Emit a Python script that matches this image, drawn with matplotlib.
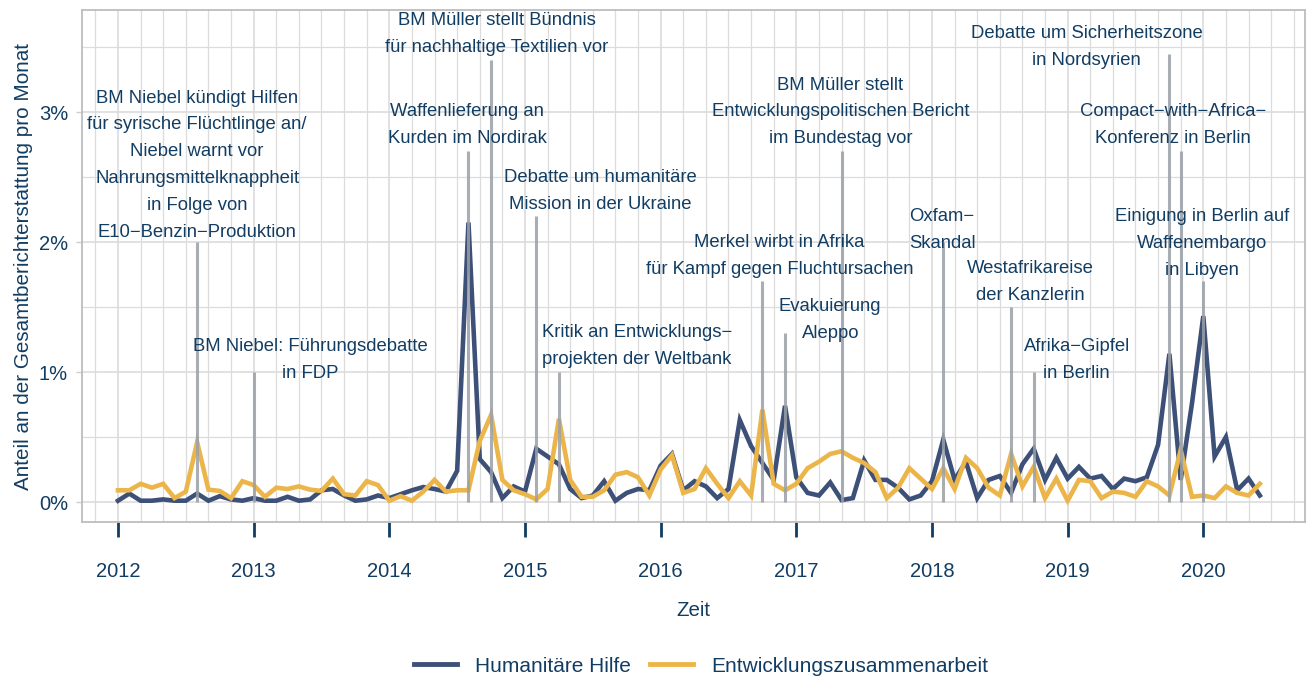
import matplotlib
matplotlib.use("Agg")
import matplotlib.pyplot as plt
import numpy as np
from matplotlib.lines import Line2D

plt.rcParams['font.family'] = ['Liberation Sans', 'DejaVu Sans']

# ---------------- data ----------------
start_year = 2012
humanitaer = [0.01, 0.065, 0.01, 0.01, 0.02, 0.01, 0.01, 0.065, 0.01, 0.045, 0.02, 0.01,
              0.03, 0.01, 0.01, 0.04, 0.01, 0.02, 0.09, 0.10, 0.05, 0.01, 0.02, 0.05,
              0.03, 0.06, 0.09, 0.115, 0.10, 0.08, 0.24, 2.15, 0.33, 0.23, 0.03, 0.12,
              0.08, 0.41, 0.35, 0.29, 0.10, 0.03, 0.05, 0.16, 0.01, 0.07, 0.10, 0.09,
              0.28, 0.37, 0.09, 0.16, 0.12, 0.03, 0.10, 0.63, 0.43, 0.30, 0.17, 0.74,
              0.19, 0.07, 0.05, 0.15, 0.015, 0.03, 0.32, 0.17, 0.17, 0.11, 0.02, 0.05,
              0.16, 0.48, 0.17, 0.31, 0.03, 0.17, 0.20, 0.07, 0.29, 0.41, 0.17, 0.34,
              0.18, 0.27, 0.18, 0.20, 0.10, 0.18, 0.16, 0.19, 0.44, 1.14, 0.17, 0.76,
              1.43, 0.35, 0.50, 0.09, 0.18, 0.05]
entwicklung = [0.09, 0.09, 0.14, 0.11, 0.14, 0.03, 0.08, 0.46, 0.095, 0.085, 0.03, 0.16,
               0.13, 0.04, 0.11, 0.10, 0.12, 0.095, 0.085, 0.18, 0.06, 0.05, 0.16, 0.13,
               0.01, 0.045, 0.01, 0.08, 0.17, 0.08, 0.09, 0.09, 0.47, 0.67, 0.17, 0.09,
               0.06, 0.02, 0.10, 0.64, 0.17, 0.04, 0.04, 0.09, 0.21, 0.23, 0.19, 0.05,
               0.25, 0.36, 0.07, 0.10, 0.26, 0.14, 0.03, 0.16, 0.05, 0.71, 0.14, 0.09,
               0.14, 0.26, 0.31, 0.37, 0.39, 0.34, 0.30, 0.23, 0.03, 0.11, 0.26, 0.18,
               0.10, 0.26, 0.10, 0.34, 0.26, 0.11, 0.05, 0.37, 0.12, 0.27, 0.03, 0.18,
               0.01, 0.17, 0.16, 0.03, 0.08, 0.07, 0.04, 0.16, 0.12, 0.05, 0.40, 0.04,
               0.05, 0.03, 0.12, 0.07, 0.05, 0.14]

series_names = ["Humanitäre Hilfe", "Entwicklungszusammenarbeit"]

# events: month index since Jan 2012, height of marker line (%), label
event_months = [7, 12, 31, 33, 37, 39, 57, 59, 64, 73, 79, 81, 93, 94, 96]
event_heights = [2.0, 1.0, 2.7, 3.4, 2.2, 1.0, 1.7, 1.3, 2.7, 2.0, 1.5, 1.0, 3.45, 2.7, 1.7]
event_labels = [
    "BM Niebel kündigt Hilfen\nfür syrische Flüchtlinge an/\nNiebel warnt vor\nNahrungsmittelknappheit\nin Folge von\nE10−Benzin−Produktion",
    "BM Niebel: Führungsdebatte\nin FDP",
    "Waffenlieferung an\nKurden im Nordirak",
    "BM Müller stellt Bündnis\nfür nachhaltige Textilien vor",
    "Debatte um humanitäre\nMission in der Ukraine",
    "Kritik an Entwicklungs−\nprojekten der Weltbank",
    "Merkel wirbt in Afrika\nfür Kampf gegen Fluchtursachen",
    "Evakuierung\nAleppo",
    "BM Müller stellt\nEntwicklungspolitischen Bericht\nim Bundestag vor",
    "Oxfam−\nSkandal",
    "Westafrikareise\nder Kanzlerin",
    "Afrika−Gipfel\nin Berlin",
    "Debatte um Sicherheitszone\nin Nordsyrien",
    "Compact−with−Africa−\nKonferenz in Berlin",
    "Einigung in Berlin auf\nWaffenembargo\nin Libyen",
]
year_ticks = [2012, 2013, 2014, 2015, 2016, 2017, 2018, 2019, 2020]
pct_ticks = [0, 1, 2, 3]

# ---------------- layout (label placement, month / % units) ----------------
label_x = [7.0, 17.0, 30.9, 33.5, 42.7, 45.9, 58.5, 63.0, 63.9, 72.9, 80.7, 84.8, 85.7, 93.3, 95.9]
label_y = [2.59, 1.09, 2.90, 3.60, 2.39, 1.20, 1.89, 1.40, 3.00, 2.09, 1.69, 1.09, 3.50, 2.90, 1.99]

# ---------------- style ----------------
BLUE = "#3d5078"
YELLOW = "#ecb54a"
TEXT = "#123d63"
GRID = "#dcdcdc"
EVENT = "#9aa0a8"

fig = plt.figure(figsize=(13.06, 6.77), dpi=100)
ax = fig.add_axes([82 / 1306, 155 / 677, (1305 - 82) / 1306, (522 - 10) / 677])

x = start_year + np.arange(len(humanitaer)) / 12.0
ax.plot(x, humanitaer, color=BLUE, lw=3.3, solid_joinstyle='miter', zorder=3)
ax.plot(x, entwicklung, color=YELLOW, lw=3.3, solid_joinstyle='miter', zorder=3)

ex = start_year + np.array(event_months) / 12.0
ax.vlines(ex, 0, event_heights, color=EVENT, lw=2.2, alpha=0.85, zorder=4)

for lx, ly, lab in zip(label_x, label_y, event_labels):
    ax.text(start_year + lx / 12.0, ly, lab, ha='center', va='center', color=TEXT,
            fontsize=13.3, linespacing=1.76, zorder=5)

ax.set_xticks(year_ticks)
ax.set_xticklabels([str(y) for y in year_ticks])
ax.set_xticks(np.arange(2011 + 10 / 12, 2020.8, 2 / 12), minor=True)
ax.set_yticks(pct_ticks)
ax.set_yticklabels([f"{p}%" for p in pct_ticks])
ax.set_yticks(np.arange(0.5, 4, 1.0), minor=True)

px_per_year = (1203.3 - 118) / 8
ax.set_xlim(start_year - 36 / px_per_year, start_year + (1305 - 118) / px_per_year)
ax.set_ylim(-20 / 130, 492 / 130)

ax.grid(True, which='major', color=GRID, lw=1.2, zorder=0)
ax.grid(True, which='minor', color=GRID, lw=0.9, zorder=0)
ax.set_axisbelow(True)

for s in ax.spines.values():
    s.set_color("#bdbdbd")
    s.set_linewidth(1.3)

ax.tick_params(axis='x', which='major', length=11, width=2, color=TEXT, pad=18,
               labelsize=14.5, labelcolor=TEXT)
ax.tick_params(axis='x', which='minor', length=0)
ax.tick_params(axis='y', which='major', length=4, width=1, color="#cccccc", pad=6,
               labelsize=14.5, labelcolor=TEXT)
ax.tick_params(axis='y', which='minor', length=0)

ax.set_xlabel("Zeit", fontsize=14.8, color=TEXT, labelpad=14)
ax.set_ylabel("Anteil an der Gesamtberichterstattung pro Monat", fontsize=14.9, color=TEXT, labelpad=4)

handles = [Line2D([0], [0], color=BLUE, lw=3.5), Line2D([0], [0], color=YELLOW, lw=3.5)]
fig.legend(handles, series_names, loc='center', bbox_to_anchor=(701 / 1306, 11 / 677), ncol=2,
           frameon=False, fontsize=15, labelcolor=TEXT, handlelength=2.1, columnspacing=0.87,
           handletextpad=0.87)

fig.savefig("out.png", dpi=100)
